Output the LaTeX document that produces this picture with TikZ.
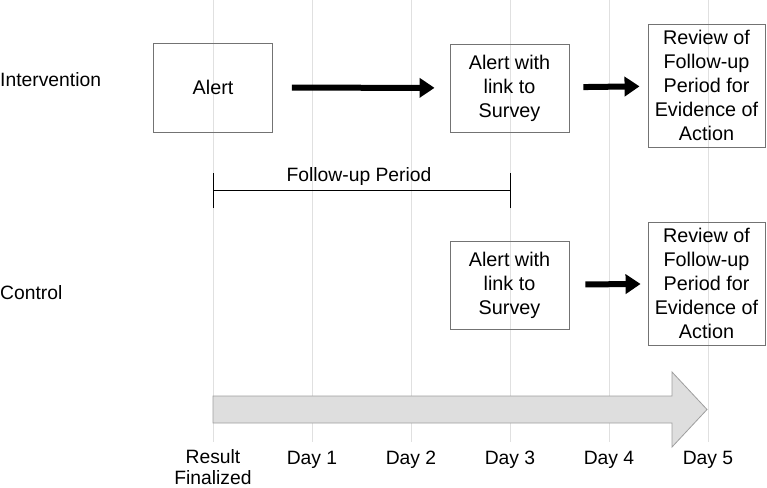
\documentclass[tikz,border=0pt]{standalone}
\usepackage{fontspec}
\setmainfont{Liberation Sans}
\usetikzlibrary{arrows.meta}

\begin{document}
\begin{tikzpicture}[x=1pt,y=-1pt,
  box/.style={draw=black!55,line width=0.9pt,align=center,inner sep=0pt,
    font=\fontsize{19.8}{24}\selectfont},
  lbl/.style={align=center,inner sep=0pt,font=\fontsize{19.3}{21.5}\selectfont},
  bigarrow/.style={line width=6pt,-{Triangle[length=15pt,width=19pt]},
    shorten <=19pt,shorten >=15pt},
  gridline/.style={draw=black!12,line width=0.8pt}]
\useasboundingbox (0,0) rectangle (767,487);
% day grid
\foreach \x in {213,312,411,510,609,708}
  \draw[gridline] (\x,0) -- (\x,442);
% row labels
\node[lbl,anchor=west] (intv) at (0,80) {Intervention};
\node[lbl,anchor=west] (ctrl) at (0,293) {Control};
% intervention row
\node[box,minimum width=119pt,minimum height=89pt] (alertI) at (213,87.5) {Alert};
\node[box,minimum width=119pt,minimum height=88pt] (surveyI) at (509.5,88) {Alert with\\link to\\Survey};
\node[box,minimum width=117pt,minimum height=123pt] (reviewI) at (706.5,85.5) {Review of\\Follow-up\\Period for\\Evidence of\\Action};
\draw[bigarrow] (alertI) -- (surveyI);
\draw[bigarrow,shorten <=14pt,shorten >=8pt] (surveyI) -- (reviewI);
% follow-up period
\coordinate (fpA) at (213,190);
\coordinate (fpB) at (510,190);
\draw[line width=1pt] (fpA) -- (fpB);
\draw[line width=1pt] ([yshift=-18]fpA) -- ([yshift=17]fpA);
\draw[line width=1pt] ([yshift=-18]fpB) -- ([yshift=17]fpB);
\node[lbl] (fp) at (359,177) {Follow-up Period};
% control row
\node[box,minimum width=119pt,minimum height=88pt] (surveyC) at (509.5,285) {Alert with\\link to\\Survey};
\node[box,minimum width=117pt,minimum height=123pt] (reviewC) at (706.5,283.5) {Review of\\Follow-up\\Period for\\Evidence of\\Action};
\draw[bigarrow,shorten <=16pt,shorten >=7pt] (surveyC) -- (reviewC);
% time line
\draw[fill=black!13,draw=black!38,line width=0.8pt]
  (213,396) -- (672,396) -- (672,372) -- (707,409.5) -- (672,447)
  -- (672,423) -- (213,423) -- cycle;
\node[lbl] (d0) at (213,467) {Result\\Finalized};
\node[lbl] (d1) at (312,460) {Day 1};
\node[lbl] (d2) at (411,460) {Day 2};
\node[lbl] (d3) at (510,460) {Day 3};
\node[lbl] (d4) at (609,460) {Day 4};
\node[lbl] (d5) at (708,460) {Day 5};
\end{tikzpicture}
\end{document}
